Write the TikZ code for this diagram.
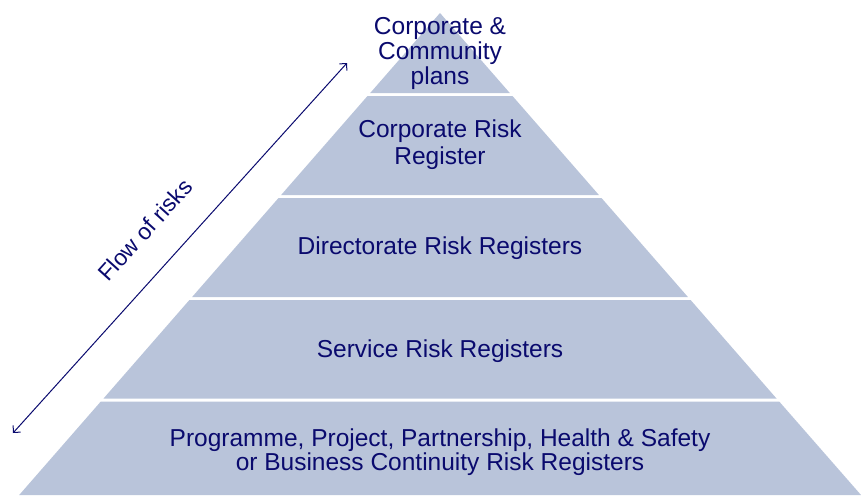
\documentclass[tikz,border=0pt]{standalone}
\usepackage{fontspec}
\setmainfont{Liberation Sans}
\usetikzlibrary{arrows.meta}
\definecolor{layerfill}{RGB}{185,196,218}
\definecolor{navy}{RGB}{10,10,110}
\begin{document}
\begin{tikzpicture}[x=1pt,y=-1pt,
  layer/.style={fill=layerfill,draw=none},
  lbl/.style={text=navy,align=center,anchor=base,inner sep=0pt,font=\fontsize{24.5}{24.5}\selectfont},
  flow/.style={draw=navy,line width=1pt,{Straight Barb[length=5pt,width=10pt]}-{Straight Barb[length=5pt,width=10pt]}}]
\useasboundingbox (0,0) rectangle (861,495);
% layers
\fill[layer] (440,13) -- (509.8,93) -- (370.2,93) -- cycle;
\fill[layer] (367.5,96) -- (512.5,96) -- (598.9,195) -- (281.1,195) -- cycle;
\fill[layer] (278.5,198) -- (601.5,198) -- (687.9,297) -- (192.1,297) -- cycle;
\fill[layer] (189.4,300) -- (690.6,300) -- (776.5,398.5) -- (103.5,398.5) -- cycle;
\fill[layer] (100.8,401.5) -- (779.2,401.5) -- (861,495) -- (19.2,495) -- cycle;
% labels (base anchor = last line baseline)
\node[lbl,font=\fontsize{24.5}{24.5}\selectfont] (l1) at (440,84) {Corporate \&\\Community\\plans};
\node[lbl,font=\fontsize{24.5}{27}\selectfont] (l2) at (440,164) {Corporate Risk\\Register};
\node[lbl] (l3) at (440,254) {Directorate Risk Registers};
\node[lbl] (l4) at (440,357) {Service Risk Registers};
\node[lbl,font=\fontsize{24.5}{23.5}\selectfont] (l5) at (440,470) {Programme, Project, Partnership, Health \& Safety\\or Business Continuity Risk Registers};
% flow arrow
\coordinate (fa) at (13,433);
\coordinate (fb) at (347,63);
\draw[flow] (fa) -- (fb);
\node[text=navy,font=\fontsize{23}{23}\selectfont,rotate=47.9,inner sep=0pt] (flowlbl) at (145,230) {Flow of risks};
\end{tikzpicture}
\end{document}
